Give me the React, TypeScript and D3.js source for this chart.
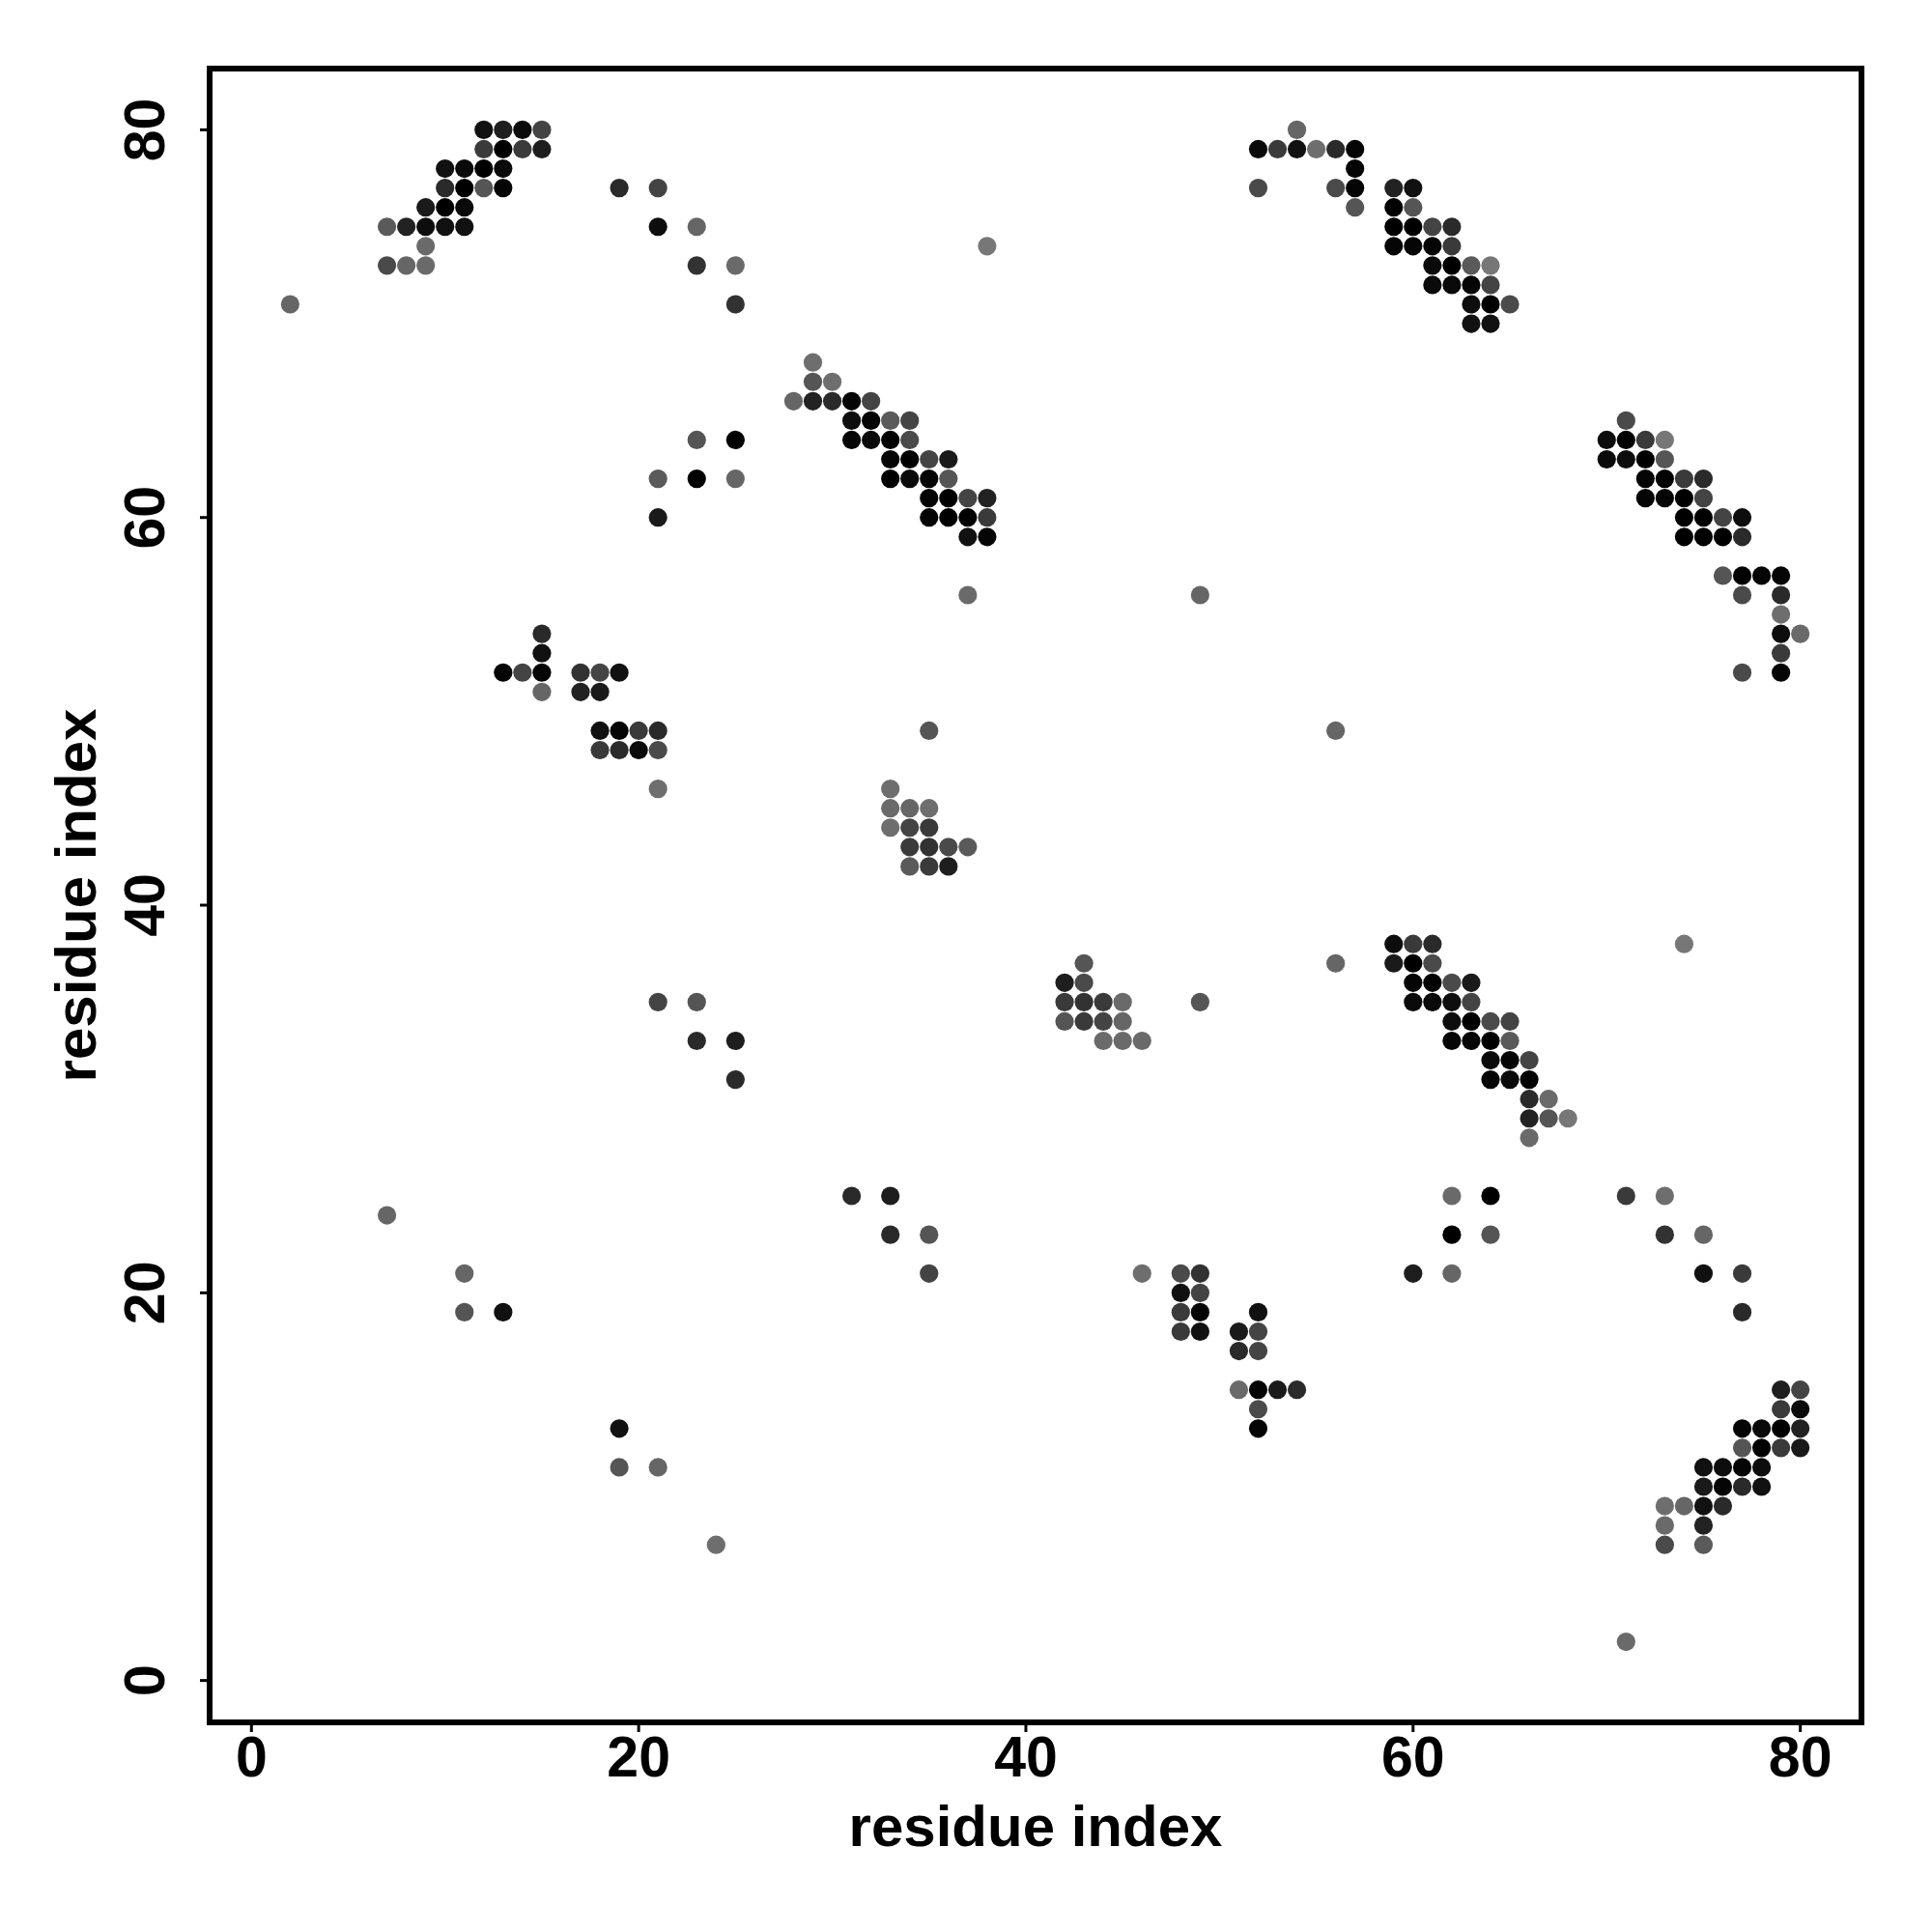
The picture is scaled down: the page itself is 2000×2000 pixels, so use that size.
import React from 'react';
import * as d3 from 'd3';

// contact map: [residue i, residue j, contact probability]
const contacts: [number, number, number][] = [
  [12, 80, 0.86], [13, 80, 0.75], [14, 80, 0.92], [15, 80, 0.43],
  [12, 79, 0.52], [13, 79, 1], [14, 79, 0.52], [15, 79, 0.75],
  [10, 78, 0.86], [11, 78, 0.92], [12, 78, 1], [13, 78, 0.92],
  [10, 77, 0.65], [11, 77, 1], [12, 77, 0.29], [13, 77, 0.96],
  [9, 76, 0.78], [10, 76, 1], [11, 76, 0.92],
  [7, 75, 0.25], [8, 75, 0.72], [9, 75, 0.89], [10, 75, 0.86], [11, 75, 0.86],
  [9, 74, 0.12],
  [7, 73, 0.38], [8, 73, 0.15], [9, 73, 0.12],
  [2, 71, 0.15],
  [19, 77, 0.65], [21, 77, 0.43],
  [21, 75, 0.89], [23, 75, 0.15],
  [23, 73, 0.58], [25, 73, 0.12],
  [25, 71, 0.58],
  [23, 64, 0.29], [25, 64, 1],
  [21, 62, 0.25], [23, 62, 1], [25, 62, 0.15],
  [21, 60, 0.78],
  [54, 80, 0.15],
  [52, 79, 0.92], [53, 79, 0.52], [54, 79, 0.86], [55, 79, 0.08],
  [52, 77, 0.38],
  [38, 74, 0.01],
  [29, 68, 0.08],
  [29, 67, 0.29], [30, 67, 0.08],
  [28, 66, 0.15], [29, 66, 0.72], [30, 66, 0.65], [31, 66, 0.96], [32, 66, 0.43],
  [31, 65, 0.89], [32, 65, 0.96], [33, 65, 0.25], [34, 65, 0.43],
  [31, 64, 0.96], [32, 64, 0.92], [33, 64, 1], [34, 64, 0.38],
  [33, 63, 0.96], [34, 63, 1], [35, 63, 0.43], [36, 63, 0.78],
  [33, 62, 1], [34, 62, 0.92], [35, 62, 0.96], [36, 62, 0.29],
  [35, 61, 0.96], [36, 61, 1], [37, 61, 0.43], [38, 61, 0.72],
  [35, 60, 0.96], [36, 60, 1], [37, 60, 1], [38, 60, 0.52],
  [37, 59, 0.86], [38, 59, 0.96],
  [37, 56, 0.12], [49, 56, 0.15],
  [56, 79, 0.65], [57, 79, 0.96],
  [57, 78, 0.96],
  [56, 77, 0.38], [57, 77, 0.96], [59, 77, 0.72], [60, 77, 0.86],
  [57, 76, 0.29], [59, 76, 1], [60, 76, 0.29],
  [59, 75, 1], [60, 75, 1], [61, 75, 0.43], [62, 75, 0.65],
  [59, 74, 0.96], [60, 74, 0.96], [61, 74, 0.96], [62, 74, 0.52],
  [61, 73, 0.92], [62, 73, 1], [63, 73, 0.25], [64, 73, 0.01],
  [61, 72, 0.92], [62, 72, 0.92], [63, 72, 0.96], [64, 72, 0.43],
  [63, 71, 0.89], [64, 71, 1], [65, 71, 0.38],
  [63, 70, 0.86], [64, 70, 0.86],
  [71, 65, 0.38],
  [70, 64, 0.89], [71, 64, 1], [72, 64, 0.52], [73, 64, 0.01],
  [70, 63, 0.92], [71, 63, 0.89], [72, 63, 1], [73, 63, 0.29],
  [72, 62, 0.96], [73, 62, 1], [74, 62, 0.52], [75, 62, 0.65],
  [72, 61, 0.96], [73, 61, 0.96], [74, 61, 1], [75, 61, 0.43],
  [74, 60, 1], [75, 60, 1], [76, 60, 0.43], [77, 60, 0.89],
  [74, 59, 1], [75, 59, 1], [76, 59, 1], [77, 59, 0.65],
  [76, 57, 0.29], [77, 57, 1], [78, 57, 0.96], [79, 57, 0.96],
  [77, 56, 0.38], [79, 56, 0.65],
  [79, 55, 0.08],
  [79, 54, 0.89], [80, 54, 0.12],
  [79, 53, 0.52],
  [77, 52, 0.38], [79, 52, 0.96],
  [56, 49, 0.15],
  [59, 38, 0.89], [60, 38, 0.52], [61, 38, 0.65], [74, 38, 0.01],
  [56, 37, 0.15], [59, 37, 0.78], [60, 37, 1], [61, 37, 0.38],
  [60, 36, 0.96], [61, 36, 1], [62, 36, 0.38], [63, 36, 0.78],
  [60, 35, 0.92], [61, 35, 0.92], [62, 35, 0.89], [63, 35, 0.43],
  [62, 34, 0.89], [63, 34, 1], [64, 34, 0.38], [65, 34, 0.43],
  [62, 33, 0.96], [63, 33, 0.96], [64, 33, 1], [65, 33, 0.25],
  [64, 32, 0.92], [65, 32, 0.96], [66, 32, 0.43],
  [64, 31, 0.96], [65, 31, 0.92], [66, 31, 1],
  [66, 30, 0.65], [67, 30, 0.12],
  [66, 29, 0.72], [67, 29, 0.29], [68, 29, 0.01],
  [66, 28, 0.12],
  [15, 54, 0.65],
  [15, 53, 0.86],
  [13, 52, 0.96], [14, 52, 0.43], [15, 52, 0.96], [17, 52, 0.58], [18, 52, 0.43], [19, 52, 0.86],
  [15, 51, 0.15], [17, 51, 0.72], [18, 51, 0.78],
  [18, 49, 0.86], [19, 49, 0.96], [20, 49, 0.52], [21, 49, 0.65],
  [18, 48, 0.52], [19, 48, 0.65], [20, 48, 0.92], [21, 48, 0.38],
  [21, 46, 0.08],
  [21, 35, 0.43], [23, 35, 0.29],
  [23, 33, 0.65], [25, 33, 0.75],
  [25, 31, 0.65],
  [35, 49, 0.29],
  [33, 46, 0.08],
  [33, 45, 0.12], [34, 45, 0.15], [35, 45, 0.08],
  [33, 44, 0.08], [34, 44, 0.43], [35, 44, 0.52],
  [34, 43, 0.52], [35, 43, 0.58], [36, 43, 0.38], [37, 43, 0.25],
  [34, 42, 0.25], [35, 42, 0.52], [36, 42, 0.75],
  [43, 37, 0.29],
  [42, 36, 0.75], [43, 36, 0.38],
  [42, 35, 0.52], [43, 35, 0.58], [44, 35, 0.52], [45, 35, 0.12], [49, 35, 0.29],
  [42, 34, 0.29], [43, 34, 0.52], [44, 34, 0.43], [45, 34, 0.15],
  [44, 33, 0.12], [45, 33, 0.12], [46, 33, 0.12],
  [7, 24, 0.15],
  [11, 21, 0.15],
  [11, 19, 0.29], [13, 19, 0.86],
  [19, 13, 0.86],
  [19, 11, 0.29], [21, 11, 0.15],
  [24, 7, 0.08],
  [31, 25, 0.65], [33, 25, 0.75],
  [33, 23, 0.65], [35, 23, 0.29],
  [35, 21, 0.43], [46, 21, 0.08], [48, 21, 0.38], [49, 21, 0.58],
  [48, 20, 0.86], [49, 20, 0.43],
  [48, 19, 0.52], [49, 19, 0.96], [52, 19, 0.86],
  [48, 18, 0.52], [49, 18, 0.86], [51, 18, 0.78], [52, 18, 0.43],
  [51, 17, 0.65], [52, 17, 0.43],
  [51, 15, 0.12], [52, 15, 0.96], [53, 15, 0.78], [54, 15, 0.65],
  [52, 14, 0.38],
  [52, 13, 0.96],
  [62, 25, 0.12], [64, 25, 1], [71, 25, 0.52], [73, 25, 0.08],
  [62, 23, 1], [64, 23, 0.29], [73, 23, 0.58], [75, 23, 0.15],
  [60, 21, 0.75], [62, 21, 0.15], [75, 21, 0.86], [77, 21, 0.52],
  [77, 19, 0.65],
  [79, 15, 0.75], [80, 15, 0.43],
  [79, 14, 0.52], [80, 14, 0.92],
  [77, 13, 0.96], [78, 13, 0.92], [79, 13, 1], [80, 13, 0.72],
  [77, 12, 0.29], [78, 12, 1], [79, 12, 0.52], [80, 12, 0.78],
  [75, 11, 0.86], [76, 11, 0.89], [77, 11, 0.96], [78, 11, 0.89],
  [75, 10, 0.78], [76, 10, 0.96], [77, 10, 0.65], [78, 10, 0.86],
  [73, 9, 0.08], [74, 9, 0.15], [75, 9, 0.86], [76, 9, 0.65],
  [73, 8, 0.12], [75, 8, 0.72],
  [73, 7, 0.38], [75, 7, 0.25],
  [71, 2, 0.12],
];

const residueRange = [1, 80];
const tickValues = [0, 20, 40, 60, 80];
const xTitle = 'residue index';
const yTitle = 'residue index';

const W = 2000;
const H = 2000;
const margin = { top: 71, right: 73, bottom: 217, left: 217 };
const font = '"Liberation Sans", Arial, Helvetica, sans-serif';

export default function App() {
  // R-style 4% axis expansion
  const pad = (residueRange[1] - residueRange[0]) * 0.04;
  const domain = [residueRange[0] - pad, residueRange[1] + pad];

  const x = d3.scaleLinear().domain(domain).range([margin.left, W - margin.right]);
  const y = d3.scaleLinear().domain(domain).range([H - margin.bottom, margin.top]);
  const shade = d3.scaleLinear<string>().domain([0, 1]).range(['#787878', '#000000']);

  const left = margin.left;
  const right = W - margin.right;
  const top = margin.top;
  const bottom = H - margin.bottom;

  return (
    <svg
      width={W}
      height={H}
      style={{ position: 'absolute', left: 0, top: 0, background: '#fff' }}
    >
      <rect x={0} y={0} width={W} height={H} fill="#fff" />
      <g>
        {contacts.map(([i, j, p], k) => (
          <circle key={k} cx={x(i)} cy={y(j)} r={9.6} fill={shade(p)} />
        ))}
      </g>
      <rect
        x={left}
        y={top}
        width={right - left}
        height={bottom - top}
        fill="none"
        stroke="#000"
        strokeWidth={6}
      />
      <g fontFamily={font} fontWeight="bold" fontSize={59}>
        {tickValues.map((t) => (
          <g key={'x' + t}>
            <line x1={x(t)} x2={x(t)} y1={bottom} y2={bottom + 10} stroke="#000" strokeWidth={3} />
            <text x={x(t)} y={1839} textAnchor="middle">{t}</text>
          </g>
        ))}
        {tickValues.map((t) => (
          <g key={'y' + t}>
            <line x1={left} x2={left - 10} y1={y(t)} y2={y(t)} stroke="#000" strokeWidth={3} />
            <text transform={`translate(170,${y(t)}) rotate(-90)`} textAnchor="middle">{t}</text>
          </g>
        ))}
      </g>
      <text
        x={(left + right) / 2}
        y={1911}
        textAnchor="middle"
        fontFamily={font}
        fontWeight="bold"
        fontSize={60}
      >
        {xTitle}
      </text>
      <text
        transform={`translate(99,${(top + bottom) / 2}) rotate(-90)`}
        textAnchor="middle"
        fontFamily={font}
        fontWeight="bold"
        fontSize={60}
      >
        {yTitle}
      </text>
    </svg>
  );
}
